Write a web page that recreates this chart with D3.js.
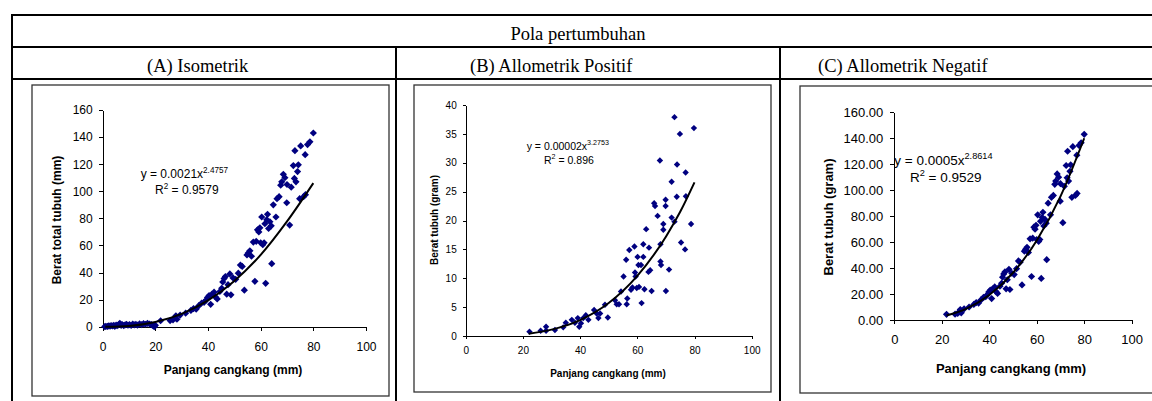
<!DOCTYPE html>
<meta charset="utf-8">
<script src="https://cdn.jsdelivr.net/npm/d3@7/dist/d3.min.js"></script>
<style>
body { margin: 0; background: #fff; }
svg { display: block; }
.tbl { font-family: "Liberation Serif", "Times New Roman", serif; fill: #000; }
.ax text { font-family: "Liberation Sans", Arial, sans-serif; fill: #000; }
.ax path, .ax line { stroke: #000; stroke-width: 1; shape-rendering: crispEdges; }
</style>
<body>
<script>
// ---- data (panjang cangkang mm, berat) ----
// dataset for (A) and (C), shells >= 22 mm
var panjangBesar = [22.0,25.6,26.7,27.5,27.8,28.2,29.4,31.5,33.5,34.5,35.5,36.5,37.6,38.5,39.2,39.8,40.4,41.0,41.5,42.3,42.8,43.5,44.5,45.2,45.6,46.1,46.6,47.1,47.6,48.3,48.7,49.5,50.5,51.5,52.3,53.0,53.8,54.8,55.3,55.9,56.5,57.2,57.8,58.3,58.8,59.3,59.7,60.0,60.4,60.8,61.3,61.6,61.9,62.3,62.6,63.0,63.5,64.0,64.2,64.8,65.8,66.2,67.0,67.6,68.0,68.6,69.2,69.9,70.0,71.0,71.6,72.4,72.8,73.0,73.4,74.0,74.3,74.8,75.2,76.3,76.9,77.0,77.8,78.7,80.0];
var beratBesar   = [4.4,4.5,5.1,6.5,8.0,5.5,8.6,10.0,12.0,13.4,13.0,15.5,17.5,18.0,19.5,21.5,23.0,16.5,24.0,25.5,22.0,20.5,26.0,28.3,33.0,35.5,37.0,24.0,31.0,39.0,23.5,36.0,35.0,39.5,45.5,44.5,27.0,53.0,54.5,56.0,52.0,62.5,33.5,63.0,71.5,70.0,73.0,62.0,81.0,60.5,62.0,76.0,32.0,79.0,83.0,72.5,77.5,74.5,46.5,90.0,81.0,94.5,96.0,104.5,107.0,112.5,110.0,91.5,105.0,75.0,103.0,119.0,109.5,130.0,107.0,114.5,119.5,94.5,133.5,96.0,127.0,97.5,134.5,136.5,143.0];
// extra small shells only in (A)
var panjangKecil = [0.8,1.2,1.8,2.3,2.8,3.2,3.7,4.2,4.6,5.1,5.5,6.0,6.5,7.0,7.4,8.0,8.5,9.0,9.6,10.2,10.8,11.4,12.0,12.6,13.2,14.0,14.8,15.5,16.2,17.0,17.8,18.5,19.2,19.6,20.0];
var beratKecil   = [0.1,0.3,0.2,0.6,0.4,0.9,0.5,1.0,0.3,1.2,0.7,1.4,2.5,1.0,1.6,0.8,1.3,1.8,1.1,1.5,0.9,2.0,1.4,1.7,1.1,2.1,1.5,2.2,1.8,2.5,2.0,1.5,0.6,0.0,1.0];
// dataset for (B)
var panjangB = [22.3,26.2,28.1,28.1,31.2,34.1,35.0,37.1,38.2,39.2,39.7,40.3,41.1,42.0,42.9,44.9,45.8,46.4,47.0,48.7,49.7,52.2,52.8,53.6,54.3,55.2,56.1,56.3,56.5,57.2,57.8,58.3,59.0,59.2,59.4,59.8,60.1,60.4,60.6,61.3,61.5,62.1,62.1,62.5,63.1,63.9,64.1,64.5,65.0,65.9,66.2,67.1,67.9,68.1,68.3,68.1,69.1,69.1,69.9,69.9,70.0,71.1,72.0,72.0,73.0,73.0,73.8,73.9,74.9,75.3,76.9,77.0,76.7,78.8,79.8];
var beratB   = [0.75,0.92,1.6,0.9,1.04,1.5,2.3,2.8,2.3,3.1,1.6,2.2,3.1,3.6,2.8,4.5,3.9,3.1,3.9,5.4,3.2,6.2,5.5,5.5,7.7,10.3,13.2,5.5,6.5,14.9,8.0,8.4,15.5,11.0,10.3,8.3,13.7,12.3,8.5,12.3,5.7,13.7,15.9,8.1,18.5,11.1,15.3,11.4,7.8,23.0,22.5,20.8,30.4,15.9,12.3,12.9,19.4,18.4,23.6,22.5,7.8,11.5,26.7,20.5,37.9,19.8,24.1,29.7,35.0,16.2,28.3,24.2,15.0,19.4,36.0];
// trend lines
var trendA = [[1,0.0],[10,0.6],[20,3.5],[30,9.5],[40,19.4],[50,33.8],[60,53.0],[70,77.7],[80,106]];
var trendB = [[22,0.4],[30,1.1],[40,2.75],[50,5.7],[60,10.4],[70,17.2],[75,21.5],[80,26.6]];
var trendC = [[22,3.5],[30,8.4],[40,19.2],[50,36.4],[60,61.3],[70,95.2],[80,140]];

var xTicks = [0, 20, 40, 60, 80, 100];
var yTicksA = [0, 20, 40, 60, 80, 100, 120, 140, 160];
var yTicksB = [0, 5, 10, 15, 20, 25, 30, 35, 40];
var yTicksC = [0, 20, 40, 60, 80, 100, 120, 140, 160];

var W = 1152, H = 401;
var svg = d3.select("body").append("svg").attr("width", W).attr("height", H);

// ---- table ----
var tl = svg.append("g").attr("stroke", "#000").attr("stroke-width", 2);
tl.append("line").attr("x1", 12).attr("x2", W).attr("y1", 15).attr("y2", 15);
tl.append("line").attr("x1", 12).attr("x2", W).attr("y1", 47).attr("y2", 47);
tl.append("line").attr("x1", 12).attr("x2", W).attr("y1", 79).attr("y2", 79);
tl.append("line").attr("x1", 12).attr("x2", 12).attr("y1", 14).attr("y2", H);
tl.append("line").attr("x1", 396).attr("x2", 396).attr("y1", 47).attr("y2", H);
tl.append("line").attr("x1", 780).attr("x2", 780).attr("y1", 47).attr("y2", H);

svg.append("text").attr("class", "tbl").attr("x", 578).attr("y", 40)
  .attr("text-anchor", "middle").style("font-size", "18.5px").text("Pola pertumbuhan");
var heads = [["(A) Isometrik", 147], ["(B) Allometrik Positif", 470], ["(C) Allometrik Negatif", 818]];
heads.forEach(function(h) {
  svg.append("text").attr("class", "tbl").attr("x", h[1]).attr("y", 72)
    .style("font-size", "18.5px").text(h[0]);
});

// ---- panels ----
function panel(o) {
  svg.append("rect").attr("x", o.box[0]).attr("y", o.box[1])
    .attr("width", o.box[2]).attr("height", o.box[3])
    .attr("fill", "#fff").attr("stroke", "#333").attr("stroke-width", 1.3);

  var x = d3.scaleLinear().domain([0, 100]).range([o.px0, o.px1]);
  var y = d3.scaleLinear().domain([0, o.ymax]).range([o.py0, o.py1]);

  var xa = svg.append("g").attr("class", "ax")
    .attr("transform", "translate(0," + o.py0 + ")")
    .call(d3.axisBottom(x).tickValues(xTicks).tickSizeInner(o.tick).tickSizeOuter(0).tickPadding(o.xpad));
  xa.selectAll("text").style("font-size", o.fs + "px");

  var ya = svg.append("g").attr("class", "ax")
    .attr("transform", "translate(" + o.px0 + ",0)")
    .call(d3.axisLeft(y).tickValues(o.yTicks).tickSizeInner(o.tick).tickSizeOuter(0).tickPadding(o.ypad)
      .tickFormat(o.fmt));
  ya.selectAll("text").style("font-size", o.fs + "px");

  var pts = [];
  o.series.forEach(function(s) {
    s[0].forEach(function(v, i) { pts.push([v, s[1][i]]); });
  });
  var r = o.msize;
  var diamond = "M0," + (-r) + "L" + r + ",0L0," + r + "L" + (-r) + ",0Z";
  svg.append("g").selectAll("path").data(pts).enter().append("path")
    .attr("d", diamond)
    .attr("transform", function(d) { return "translate(" + x(d[0]) + "," + y(d[1]) + ")"; })
    .attr("fill", "#000080");

  var line = d3.line().x(function(d) { return x(d[0]); }).y(function(d) { return y(d[1]); })
    .curve(d3.curveMonotoneX);
  svg.append("path").datum(o.trend).attr("d", line)
    .attr("fill", "none").attr("stroke", "#000").attr("stroke-width", 2);

  var f = "Liberation Sans, Arial, sans-serif";
  var e1 = svg.append("text").attr("x", o.eq[0]).attr("y", o.eq[1])
    .style("font-family", f).style("font-size", o.efs + "px");
  e1.append("tspan").text(o.eqText);
  e1.append("tspan").attr("dy", -o.efs * 0.45).style("font-size", (o.efs * 0.68) + "px").text(o.eqExp);
  var e2 = svg.append("text").attr("x", o.r2[0]).attr("y", o.r2[1])
    .style("font-family", f).style("font-size", o.efs + "px");
  e2.append("tspan").text("R");
  e2.append("tspan").attr("dy", -o.efs * 0.45).style("font-size", (o.efs * 0.68) + "px").text("2");
  e2.append("tspan").attr("dy", o.efs * 0.45).text(" = " + o.r2Text);

  svg.append("text").attr("x", o.xt[0]).attr("y", o.xt[1]).attr("text-anchor", "middle")
    .style("font-family", f).style("font-weight", "bold").style("font-size", o.tfs + "px")
    .text("Panjang cangkang (mm)");
  svg.append("text").attr("transform", "translate(" + o.yt[0] + "," + o.yt[1] + ") rotate(-90)")
    .attr("text-anchor", "middle")
    .style("font-family", f).style("font-weight", "bold").style("font-size", o.tfs + "px")
    .text(o.ytitle);
}

panel({
  box: [32, 85, 357, 311],
  px0: 102.7, px1: 366, py0: 326.7, py1: 110, ymax: 160,
  yTicks: yTicksA, fmt: d3.format("d"), tick: 4, xpad: 12, ypad: 6, fs: 12,
  series: [[panjangKecil, beratKecil], [panjangBesar, beratBesar]], msize: 3.6,
  trend: trendA,
  eq: [140.7, 178], eqText: "y = 0.0021x", eqExp: "2.4757",
  r2: [155, 194], r2Text: "0.9579", efs: 12,
  xt: [233, 374], yt: [61, 220], tfs: 12, ytitle: "Berat total tubuh (mm)"
});

panel({
  box: [414, 85, 357, 307],
  px0: 465.7, px1: 751.7, py0: 336, py1: 105, ymax: 40,
  yTicks: yTicksB, fmt: d3.format("d"), tick: 3, xpad: 8, ypad: 6, fs: 10,
  series: [[panjangB, beratB]], msize: 3.2,
  trend: trendB,
  eq: [526.7, 150], eqText: "y = 0.00002x", eqExp: "3.2753",
  r2: [544, 164], r2Text: "0.896", efs: 10.5,
  xt: [608, 376.5], yt: [437.5, 220], tfs: 10, ytitle: "Berat tubuh (gram)"
});

panel({
  box: [800, 86, 380, 307],
  px0: 894.3, px1: 1131.7, py0: 320, py1: 112.3, ymax: 160,
  yTicks: yTicksC, fmt: d3.format(".2f"), tick: 4, xpad: 11, ypad: 7, fs: 13,
  series: [[panjangBesar, beratBesar]], msize: 3.6,
  trend: trendC,
  eq: [894.3, 165], eqText: "y = 0.0005x", eqExp: "2.8614",
  r2: [910, 182], r2Text: "0.9529", efs: 13.5,
  xt: [1011, 372.5], yt: [832.5, 217], tfs: 13, ytitle: "Berat tubuh (gram)"
});
</script>
</body>
</html>
